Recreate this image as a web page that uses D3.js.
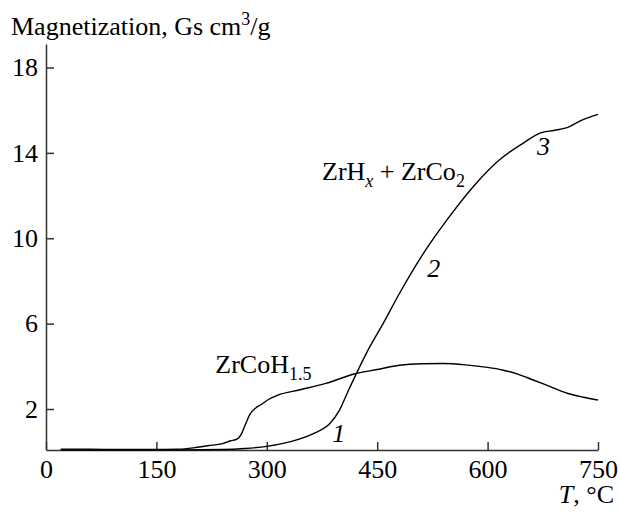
<!DOCTYPE html>
<html lang="en">
<head>
  <meta charset="UTF-8">
  <title>Magnetization vs temperature</title>
  <script src="https://d3js.org/d3.v7.min.js"></script>
  <style>
    body { margin: 0; background: #fff; }
    .axis path, .axis line { stroke: #333; stroke-width: 1.5px; }
    .curve { fill: none; stroke: #000; stroke-width: 1.4px; }
  </style>
</head>
<body>
  <div id="chart"></div>
  <script>
    // data
    const xTicks = [0, 150, 300, 450, 600, 750];
    const yTicks = [2, 6, 10, 14, 18];

    // ZrCoH1.5 (curve 1)
    const t1 = [20, 60, 100, 140, 180, 200, 220, 240, 250, 260, 265, 270, 277, 285, 292, 300, 315, 345, 380, 420, 450, 480, 510, 540, 570, 600, 620, 640, 662, 685, 708, 730, 750];
    const m1 = [0.12, 0.12, 0.1, 0.1, 0.12, 0.18, 0.28, 0.38, 0.5, 0.6, 0.8, 1.2, 1.75, 2.05, 2.2, 2.4, 2.65, 2.9, 3.2, 3.65, 3.85, 4.05, 4.12, 4.13, 4.07, 3.95, 3.83, 3.65, 3.36, 3.05, 2.74, 2.55, 2.42];

    // ZrHx + ZrCo2 (curves 2, 3)
    const t2 = [20, 100, 180, 240, 270, 300, 332, 364, 386, 398, 410, 422, 440, 458, 480, 513, 545, 581, 617, 649, 672, 690, 708, 726, 750];
    const m2 = [0.08, 0.08, 0.08, 0.1, 0.15, 0.25, 0.47, 0.86, 1.33, 1.9, 2.8, 3.68, 4.92, 6.0, 7.4, 9.3, 10.87, 12.44, 13.7, 14.47, 14.94, 15.05, 15.18, 15.5, 15.8];

    const font = "'Liberation Serif'";
    const fs = 26, subFs = 18;

    const margin = { top: 44, right: 22, bottom: 62, left: 46 },
          width = 620 - margin.left - margin.right,
          height = 512 - margin.top - margin.bottom;

    const svg = d3.select("#chart")
                  .append("svg")
                  .attr("width", 620)
                  .attr("height", 512)
                  .append("g")
                  .attr("transform", `translate(${margin.left},${margin.top})`);

    const x = d3.scaleLinear().domain([0, 750]).range([0, width]);
    const y = d3.scaleLinear().domain([0.08, 19.1]).range([height, 0]);

    // x axis, ticks pointing inward
    svg.append("g")
       .attr("class", "axis")
       .attr("transform", `translate(0,${height})`)
       .call(d3.axisBottom(x).tickValues(xTicks).tickSizeInner(-8).tickSizeOuter(0).tickPadding(10))
       .selectAll("text")
       .attr("font-family", font)
       .attr("font-size", fs);

    // y axis, ticks pointing inward
    svg.append("g")
       .attr("class", "axis")
       .call(d3.axisLeft(y).tickValues(yTicks).tickSizeInner(-8).tickSizeOuter(0).tickPadding(8))
       .selectAll("text")
       .attr("font-family", font)
       .attr("font-size", fs);

    const line = d3.line()
                   .x(d => x(d[0]))
                   .y(d => y(d[1]))
                   .curve(d3.curveMonotoneX);

    svg.append("path").attr("class", "curve").attr("d", line(d3.zip(t1, m1)));
    svg.append("path").attr("class", "curve").attr("d", line(d3.zip(t2, m2)));

    function addText(px, py) {
      return svg.append("text")
                .attr("x", px)
                .attr("y", py)
                .attr("font-family", font)
                .attr("font-size", fs);
    }

    // axis titles
    const yTitle = addText(11 - margin.left, 35 - margin.top);
    yTitle.append("tspan").text("Magnetization, Gs cm");
    yTitle.append("tspan").attr("font-size", subFs).attr("dy", -10).text("3");
    yTitle.append("tspan").attr("dy", 10).text("/g");

    const xTitle = addText(614 - margin.left, 503 - margin.top).attr("text-anchor", "end");
    xTitle.append("tspan").attr("font-style", "italic").text("T");
    xTitle.append("tspan").text(", °C");

    // curve labels
    const lab1 = addText(x(230), y(3.68));
    lab1.append("tspan").text("ZrCoH");
    lab1.append("tspan").attr("font-size", subFs).attr("dy", 7).text("1.5");

    const lab2 = addText(x(375), y(12.75));
    lab2.append("tspan").text("ZrH");
    lab2.append("tspan").attr("font-size", subFs).attr("dy", 7).attr("font-style", "italic").text("x");
    lab2.append("tspan").attr("dy", -7).text(" + ZrCo");
    lab2.append("tspan").attr("font-size", subFs).attr("dy", 7).text("2");

    const numbers = [
      { t: 389, m: 0.47, s: "1" },
      { t: 518, m: 8.2, s: "2" },
      { t: 667, m: 13.9, s: "3" }
    ];
    numbers.forEach(d => {
      addText(x(d.t), y(d.m)).attr("font-style", "italic").text(d.s);
    });
  </script>
</body>
</html>
